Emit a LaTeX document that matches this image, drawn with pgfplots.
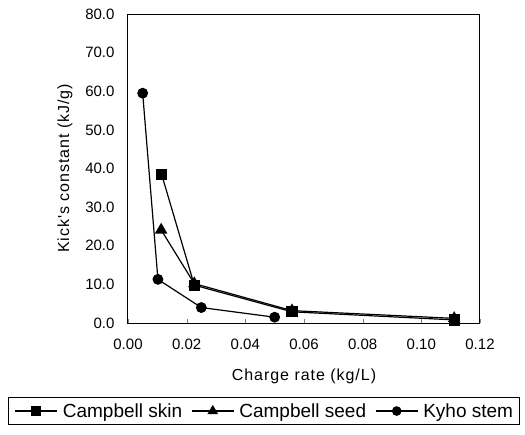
\documentclass[border=0pt]{standalone}
\usepackage{pgfplots}
\pgfplotsset{compat=1.18}
\usepackage{fontspec}
\setmainfont{Liberation Sans}
\newfontfamily\labfont[LetterSpace=6]{Liberation Sans}
\begin{document}
\begin{tikzpicture}
\useasboundingbox (-128pt,-111pt) rectangle (397pt,323pt);
\begin{axis}[
  at={(0pt,0pt)}, anchor=south west,
  scale only axis, width=352pt, height=309pt,
  xmin=0, xmax=0.12, ymin=0, ymax=80,
  xtick={0,0.02,0.04,0.06,0.08,0.1,0.12},
  ytick={0,10,...,80},
  xticklabel style={/pgf/number format/fixed, /pgf/number format/fixed zerofill, /pgf/number format/precision=2},
  yticklabel style={/pgf/number format/fixed, /pgf/number format/fixed zerofill, /pgf/number format/precision=1},
  /pgf/number format/assume math mode=true,
  scaled x ticks=false,
  tick label style={font=\fontsize{15}{17}\selectfont},
  x tick label style={yshift=-12pt},
  y tick label style={xshift=-10pt},
  xtick pos=bottom, ytick pos=left,
  xtick align=inside,
  major tick length=4.5pt,
  y tick style={draw=none},
  axis line style={line width=1pt},
  xlabel={\labfont Charge rate (kg/L)},
  ylabel={\labfont Kick's constant (kJ/g)},
  label style={font=\fontsize{16}{18}\selectfont},
  xlabel style={yshift=-13pt},
  ylabel style={yshift=6pt},
  legend style={at={(0.386,-0.2395)}, anchor=north, legend columns=3,
    font=\fontsize{19}{21}\selectfont, draw=black, line width=0.8pt,
    inner xsep=6pt, inner ysep=4pt, column sep=0pt,
    nodes={inner xsep=0pt},
    /tikz/every odd column/.append style={column sep=5pt},
    /tikz/every even column/.append style={column sep=9pt}},
  legend image code/.code={\draw[#1, mark repeat=2, mark phase=2] plot coordinates {(0pt,0pt) (21pt,0pt) (42pt,0pt)};},
]
\addlegendimage{black, line width=1.2pt, mark=square*, mark size=4.5pt, mark options={solid}}
\addlegendentry{Campbell skin}
\addlegendimage{black, line width=1.2pt, mark=triangle*, mark size=5pt, mark options={solid}}
\addlegendentry{Campbell seed}
\addlegendimage{black, line width=1.2pt, mark=*, mark size=4.2pt, mark options={solid}}
\addlegendentry{Kyho stem}
\addplot[black, line width=1.2pt, mark=triangle*, mark size=6pt, forget plot] coordinates {
  (0.0113,24.1) (0.0226,10.2) (0.0559,3.2) (0.1112,1.2)};
\addplot[black, line width=1.2pt, mark=square*, mark size=5pt, forget plot] coordinates {
  (0.0115,38.4) (0.0226,9.8) (0.0559,2.9) (0.1112,0.8)};
\addplot[black, line width=1.2pt, mark=*, mark size=4.8pt, forget plot] coordinates {
  (0.0050,59.5) (0.0102,11.3) (0.0250,4.0) (0.0500,1.5)};
\end{axis}
\end{tikzpicture}
\end{document}
